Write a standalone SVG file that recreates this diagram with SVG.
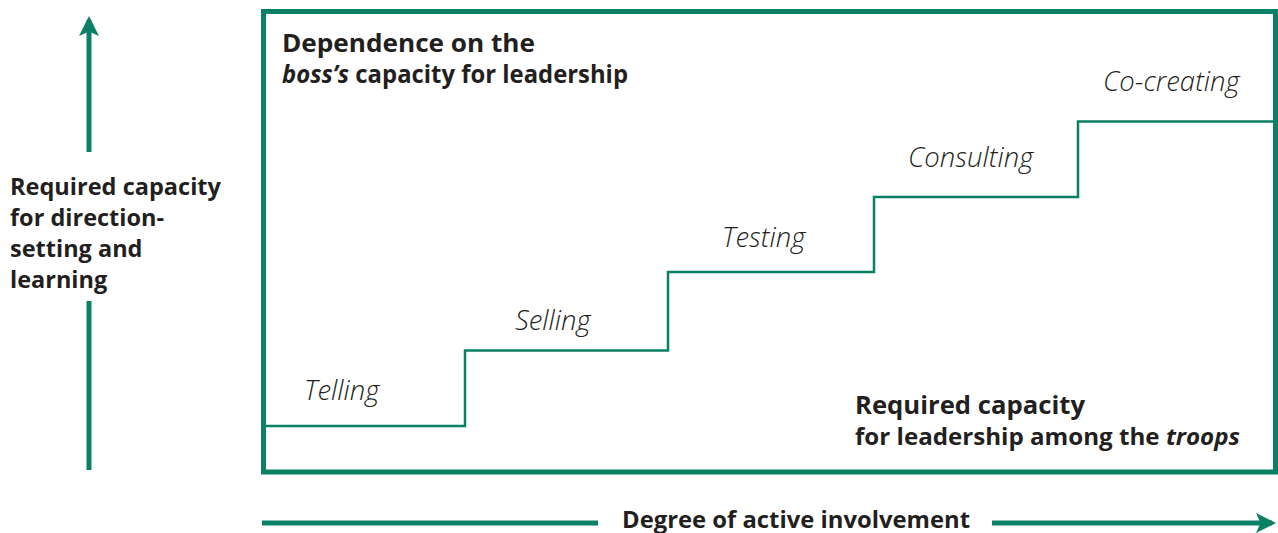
<svg xmlns="http://www.w3.org/2000/svg" width="1278" height="533" viewBox="0 0 1278 533">
<defs>
<style>
.g{stroke:#0a8064;fill:none}
.b{font-family:"Open Sans","Liberation Sans",sans-serif;font-weight:700;fill:#231f20}
.i{font-family:"Open Sans","Liberation Sans",sans-serif;font-weight:300;font-style:italic;fill:#231f20;font-size:27.5px}
</style>
<marker id="ah" markerWidth="4" markerHeight="4" refX="3.2" refY="2" orient="auto" markerUnits="strokeWidth" viewBox="0 0 4 4">
<path d="M0,0 L4,2 L0,4 L0.9,2 Z" fill="#0a8064"/>
</marker>
</defs>
<g id="frame"><rect class="g" x="263.5" y="11.5" width="1012" height="460.5" stroke-width="5"/></g>
<g id="connectors">
<path class="g" stroke-width="2.5" d="M266,426 H465 V350.5 H668 V272 H874 V197 H1078 V121.5 H1273"/>
<line class="g" stroke-width="5" x1="89" y1="152" x2="89" y2="20" marker-end="url(#ah)"/>
<line class="g" stroke-width="5" x1="89" y1="301" x2="89" y2="470"/>
<line class="g" stroke-width="5" x1="262" y1="523" x2="598" y2="523"/>
<line class="g" stroke-width="5" x1="992" y1="523" x2="1272" y2="523" marker-end="url(#ah)"/>
</g>
<g id="y-label" class="b" font-size="23.5">
<text x="10" y="195" textLength="211" lengthAdjust="spacingAndGlyphs">Required capacity</text>
<text x="10" y="226">for direction-</text>
<text x="10" y="257">setting and</text>
<text x="10" y="288">learning</text>
</g>
<g id="top-label" class="b" font-size="25">
<text x="282" y="52" textLength="253" lengthAdjust="spacingAndGlyphs">Dependence on the</text>
<text x="282" y="83" textLength="346" lengthAdjust="spacingAndGlyphs"><tspan font-style="italic">boss’s</tspan> capacity for leadership</text>
</g>
<g id="bottom-label" class="b">
<text x="855" y="414" font-size="25" textLength="230" lengthAdjust="spacingAndGlyphs">Required capacity</text>
<text x="855" y="445" font-size="22.5" textLength="385" lengthAdjust="spacingAndGlyphs">for leadership among the <tspan font-style="italic">troops</tspan></text>
</g>
<g id="x-label" class="b" font-size="23.5"><text x="622" y="528" textLength="348" lengthAdjust="spacingAndGlyphs">Degree of active involvement</text></g>
<g id="telling"><text class="i" x="304" y="400">Telling</text></g>
<g id="selling"><text class="i" x="515" y="330">Selling</text></g>
<g id="testing"><text class="i" x="722" y="247">Testing</text></g>
<g id="consulting"><text class="i" x="908" y="167">Consulting</text></g>
<g id="cocreating"><text class="i" x="1103" y="91">Co-creating</text></g>
</svg>
